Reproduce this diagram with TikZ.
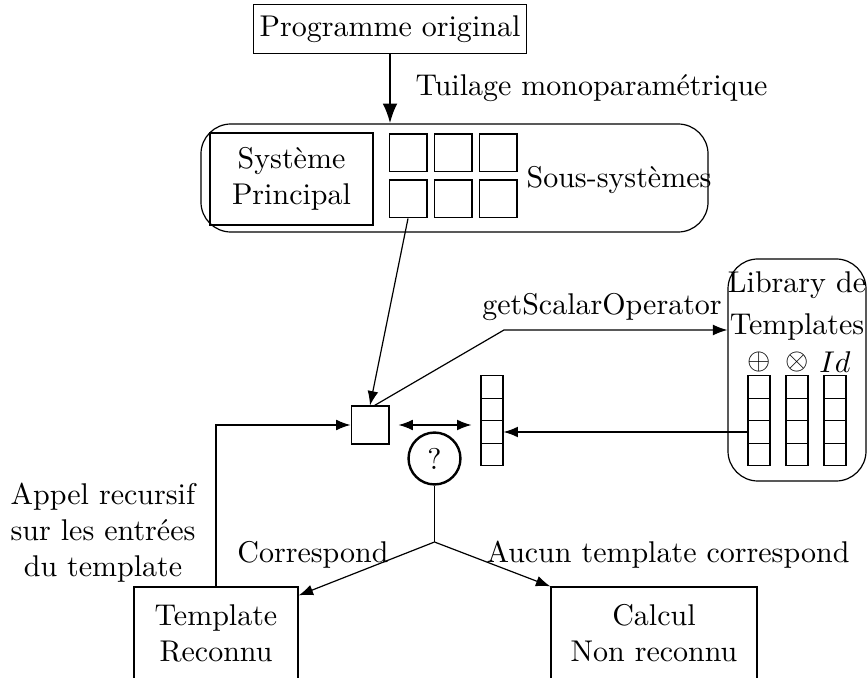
\documentclass[tikz,border=0pt]{standalone}
\usepackage{amssymb}
\usepackage{tikz}
\usetikzlibrary{arrows.meta}
\usetikzlibrary{positioning}

\begin{document}
\begin{tikzpicture}[
      >=Latex,
      x={(0.3333pt,0)},
      y={(0,-0.3333pt)},
      boite/.style={draw, align=center, inner sep=0pt},
      carre/.style={draw, minimum size=12.6pt, inner sep=0pt},
      cell/.style={draw, minimum width=7.3pt, minimum height=7.5pt, inner sep=0pt},
      conteneur/.style={draw, rounded corners=10pt, inner sep=0pt},
      lbl/.style={inner sep=0pt}
    ]
    \useasboundingbox (0,0) rectangle (867,678);

    % Programme et tuilage
    \node[boite, minimum width=91pt, minimum height=16.3pt] (prog) at (390,29) {Programme original};
    \node[conteneur, minimum width=169pt, minimum height=36pt] (cont) at (454.5,178) {};
    \draw[thick, ->] (prog.south) -- (prog.south |- cont.north);
    \node[lbl, anchor=west] (tuil) at (415,88) {Tuilage monoparamétrique};

    % Sous-systemes
    \node[boite, minimum width=54.3pt, minimum height=30.7pt] (princ) at (291.5,179) {Système\\Principal};
    \foreach \i in {0,1,2} \foreach \j in {0,1} \node[carre] (ss\i\j) at (408+45*\i, 153+46*\j) {};
    \node[lbl, anchor=west] (sous) at (526,180) {Sous-systèmes};

    % Operateur courant et colonne
    \node[carre] (cur) at (370,425) {};
    \draw[->] (ss01.south) -- (cur.north);
    \foreach \k in {1,...,4} \node[cell] (m\k) at (492, 364.5+22.5*\k) {};
    \draw[<->, shorten <=3pt, shorten >=3pt] (cur.east) -- (m1.west |- cur.east);
    \node[draw, thick, circle, minimum size=17.3pt, inner sep=0pt] (quest) at (434.5,458.5) {?};

    % Library
    \node[conteneur, minimum width=46pt, minimum height=74pt] (lib) at (797,370) {};
    \node[lbl, align=center] (libtxt) at (797,306) {Library de\\[2pt]Templates};
    \node[lbl] (op1) at (759,362) {$\oplus$};
    \node[lbl] (op2) at (797,362) {$\otimes$};
    \node[lbl] (op3) at (835,362) {$Id$};
    \foreach \c/\x in {1/759,2/797,3/835} \foreach \k in {1,...,4} \node[cell] (l\c\k) at (\x, 364.5+22.5*\k) {};
    \draw[->] (l13.west) -- (m3.east);

    \coordinate (coude) at (504,330);
    \draw[->] ([xshift=1.5pt]cur.north) -- (coude) -- (coude -| lib.west);
    \node[lbl] (gso) at (602,307) {getScalarOperator};

    % Decision
    \coordinate (fourche) at (434.5,542);
    \draw (quest.south) -- (fourche);
    \node[boite, minimum width=54.7pt, minimum height=31pt] (templ) at (216,633.5) {Template\\Reconnu};
    \node[boite, minimum width=68.7pt, minimum height=31pt] (calc) at (654,633.5) {Calcul\\Non reconnu};
    \draw[->] (fourche) -- ([yshift=-3pt]templ.north east);
    \draw[->] (fourche) -- (calc.north west);
    \node[lbl] (corr) at (313,555) {Correspond};
    \node[lbl] (aucun) at (668,555) {Aucun template correspond};

    % Appel recursif
    \draw[->] (templ.north) |- (cur.west);
    \node[lbl, align=center] (appel) at (103,533) {Appel recursif\\sur les entrées\\du template};
  \end{tikzpicture}
\end{document}
